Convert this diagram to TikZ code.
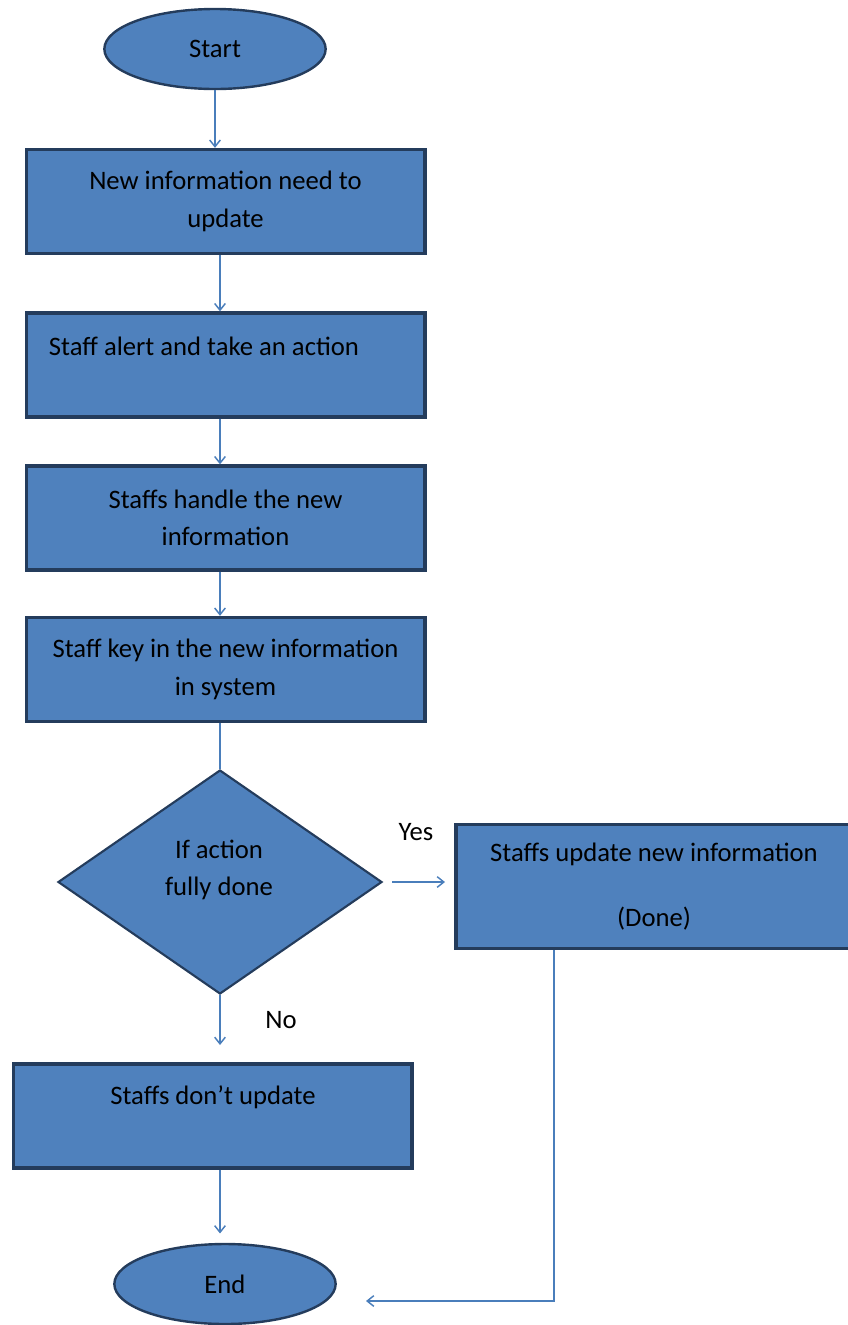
\documentclass[tikz,border=0pt]{standalone}
\usepackage{fontspec}
\setmainfont{Carlito}
\usetikzlibrary{shapes.geometric,arrows.meta}
\definecolor{boxfill}{HTML}{4F81BD}
\definecolor{boxedge}{HTML}{243C5C}
\definecolor{arrowblue}{HTML}{4A7EBB}
\begin{document}
\begin{tikzpicture}
[x=0.75pt,y=-0.75pt,>={Straight Barb[length=5pt,width=8pt]},
 box/.style = {draw=boxedge, fill=boxfill, line width=2.5pt, minimum width=299pt, minimum height=78pt, inner sep=0pt, align=center, font=\fontsize{20}{28}\selectfont},
 term/.style = {ellipse, draw=boxedge, fill=boxfill, line width=1.8pt, minimum width=166pt, minimum height=60pt, inner sep=0pt, font=\fontsize{20}{28}\selectfont},
 decision/.style = {diamond, draw=boxedge, fill=boxfill, line width=1.6pt, minimum width=243pt, minimum height=168pt, inner sep=0pt},
 txt/.style = {font=\fontsize{20}{28}\selectfont, align=center, inner sep=0pt},
 flow/.style = {draw=arrowblue, line width=1.1pt},]
\useasboundingbox (0,0) rectangle (848,1325);
\node (start) at (215,49) [term] {Start};
\node (b1) at (225.5,201.5) [box] {New information need to\\update};
\node (b2) at (225.5,365) [box] {};
\node (b2t) at (204,346) [txt] {Staff alert and take an action};
\node (b3) at (225.5,518) [box] {Staffs handle the new\\information};
\node (b4) at (225.5,669.5) [box] {Staff key in the new information\\in system};
\node (dec) at (220,882) [decision] {};
\node (dect) at (219,870) [txt] {If action\\fully done};
\node (b5) at (654,886.5) [box,minimum width=297pt,minimum height=93pt] {Staffs update new information\\[21pt](Done)};
\node (b6) at (212.5,1116) [box] {};
\node (b6t) at (213,1097) [txt] {Staffs don’t update};
\node (end) at (225,1284) [term] {End};
\node (yes) at (416,832) [txt] {Yes};
\node (no) at (281,1020) [txt] {No};
\coordinate (turn) at (554,1301);
\coordinate (tip) at (366,1301);
\draw[flow,->] (start.south) -- (start.south |- b1.north);
\draw[flow,->] (b1.south -| dec.north) -- (b2.north -| dec.north);
\draw[flow,->] (b2.south -| dec.north) -- (b3.north -| dec.north);
\draw[flow,->] (b3.south -| dec.north) -- (b4.north -| dec.north);
\draw[flow] (b4.south -| dec.north) -- (dec.north);
\draw[flow,->,shorten <=7pt,shorten >=7pt] (dec.east) -- (b5.west |- dec.east);
\draw[flow,->,shorten >=13pt] (dec.south) -- (b6.north -| dec.south);
\draw[flow,->,shorten >=7pt] (b6.south -| dec.south) -- (end.north -| dec.south);
\draw[flow,->] (b5.south -| turn) -- (turn) -- (tip);
\end{tikzpicture}
\end{document}
